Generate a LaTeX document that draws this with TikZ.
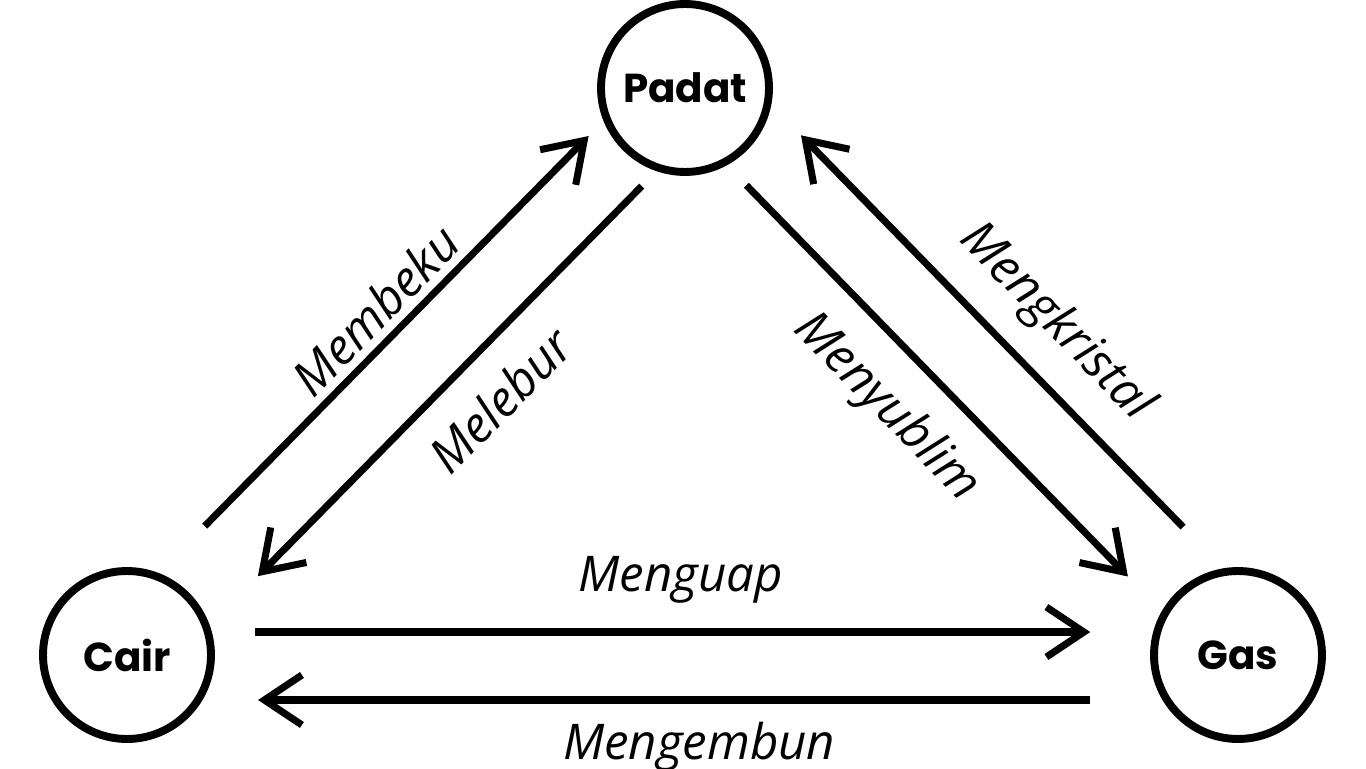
\documentclass[tikz,border=0pt]{standalone}
\usepackage{fontspec}
\usepackage{tikz}
\usetikzlibrary{calc,arrows.meta}
\newfontfamily\statefont{Poppins}
\newfontfamily\handfont{Open Sans}

\begin{document}
\begin{tikzpicture}[x=0.02cm,y=0.02cm]
	\tikzset{>={Straight Barb[length=0.75cm,width=1cm]},
		state/.style={draw, circle, line width=4.5pt, minimum size=3.36cm, inner sep=0pt,
			font=\statefont\bfseries\fontsize{23}{23}\selectfont},
		arr/.style={line width=4pt, ->},
		lbl/.style={font=\handfont\itshape\fontsize{28}{28}\selectfont}}
	\useasboundingbox (0,0) rectangle (1366,768);
	\node[state] (padat) at (685,680) {Padat};
	\node[state] (cair) at (127,113) {Cair};
	\node[state] (gas) at (1238,113) {Gas};
	% cair - padat
	\coordinate (bk1) at ($(cair)!0.184!(padat)!0.7cm!90:(padat)$);
	\coordinate (bk2) at ($(cair)!0.872!(padat)!0.7cm!90:(padat)$);
	\coordinate (lb1) at ($(cair)!0.874!(padat)!0.76cm!-90:(padat)$);
	\coordinate (lb2) at ($(cair)!0.186!(padat)!0.76cm!-90:(padat)$);
	\draw[arr] (bk1) -- (bk2) node[lbl, midway, sloped, above=1pt] (membeku) {Membeku};
	\draw[arr] (lb1) -- (lb2) node[lbl, pos=0.46, sloped, below=12pt] (melebur) {Melebur};
	% padat - gas
	\coordinate (sb1) at ($(padat)!0.142!(gas)!0.48cm!-90:(gas)$);
	\coordinate (sb2) at ($(padat)!0.832!(gas)!0.48cm!-90:(gas)$);
	\coordinate (kr1) at ($(padat)!0.836!(gas)!1cm!90:(gas)$);
	\coordinate (kr2) at ($(padat)!0.145!(gas)!1cm!90:(gas)$);
	\draw[arr] (sb1) -- (sb2) node[lbl, pos=0.47, sloped, below=12pt] (menyublim) {Menyublim};
	\draw[arr] (kr1) -- (kr2) node[lbl, pos=0.43, sloped, above=10pt] (mengkristal) {Mengkristal};
	% cair - gas
	\coordinate (gp1) at ($(cair)!0.115!(gas)!0.46cm!90:(gas)$);
	\coordinate (gp2) at ($(cair)!0.867!(gas)!0.46cm!90:(gas)$);
	\coordinate (eb1) at ($(cair)!0.867!(gas)!0.9cm!-90:(gas)$);
	\coordinate (eb2) at ($(cair)!0.118!(gas)!0.9cm!-90:(gas)$);
	\draw[arr] (gp1) -- (gp2) node[lbl, pos=0.51, above=11pt] (menguap) {Menguap};
	\draw[arr] (eb1) -- (eb2) node[lbl, pos=0.47, below=7pt] (mengembun) {Mengembun};
\end{tikzpicture}
\end{document}
